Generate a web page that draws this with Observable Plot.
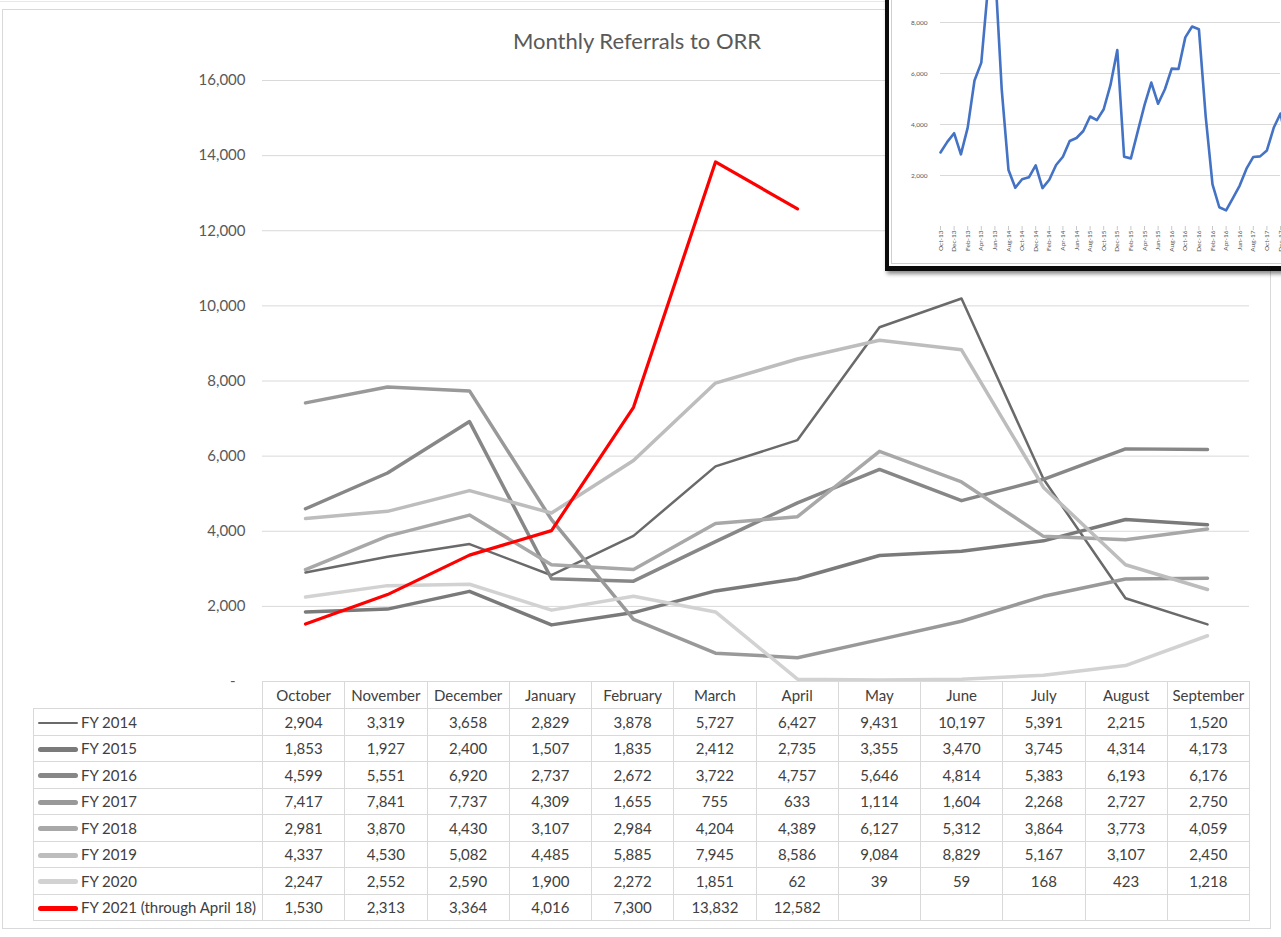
<!DOCTYPE html>
<html><head><meta charset="utf-8">
<script src="https://cdn.jsdelivr.net/npm/d3@7"></script>
<script src="https://cdn.jsdelivr.net/npm/@observablehq/plot@0.6"></script>
<style>
html,body{margin:0;padding:0;background:#fff;overflow:hidden;}
#page{position:relative;width:1281px;height:937px;overflow:hidden;font-family:Lato,"Open Sans",sans-serif;color:#404040;}
.abs{position:absolute;}
#frame{left:2px;top:9px;width:1269px;height:920px;border:1px solid #d9d9d9;box-sizing:border-box;}
#topline{left:0;top:1px;width:886px;height:0;border-top:1px solid #e8e8e8;}
#title{left:0;width:1274px;top:27px;text-align:center;font-size:22px;color:#595959;}
#tbl{left:33px;top:681px;border-collapse:collapse;table-layout:fixed;font-size:15px;color:#404040;}
#tbl td{border:1px solid #d9d9d9;padding:0;text-align:center;white-space:nowrap;overflow:hidden;}
#tbl td.lab{text-align:left;padding-left:4px;}
#tbl td.blank{border-top:none;border-left:none;}
.sw{display:inline-block;width:40px;border-radius:3px;vertical-align:middle;margin-right:3px;position:relative;top:-1px;}
#insetBox{left:885px;top:-10px;width:420px;height:281px;box-sizing:border-box;border-left:4px solid #0b0b0b;border-bottom:5px solid #0b0b0b;background:#fff;box-shadow:2px 3px 4px rgba(0,0,0,0.45);}
#insetInner{left:891px;top:-5px;width:420px;height:269px;box-sizing:border-box;border:1px solid #d0d0d0;}
#inset{left:890px;top:0;width:391px;height:262px;overflow:hidden;}
#main{left:0;top:0;}
</style></head>
<body><div id="page">
<div id="topline" class="abs"></div>
<div id="frame" class="abs"></div>
<div id="main" class="abs"></div>
<div id="title" class="abs">Monthly Referrals to ORR</div>
<table id="tbl" class="abs"></table>
<div id="insetBox" class="abs"></div>
<div id="insetInner" class="abs"></div>
<div id="inset" class="abs"></div>
</div>
<script>
// ---------- data ----------
const months = ["October","November","December","January","February","March","April","May","June","July","August","September"];
const seriesNames = ["FY 2014","FY 2015","FY 2016","FY 2017","FY 2018","FY 2019","FY 2020","FY 2021 (through April 18)"];
const fy2014 = [2904,3319,3658,2829,3878,5727,6427,9431,10197,5391,2215,1520];
const fy2015 = [1853,1927,2400,1507,1835,2412,2735,3355,3470,3745,4314,4173];
const fy2016 = [4599,5551,6920,2737,2672,3722,4757,5646,4814,5383,6193,6176];
const fy2017 = [7417,7841,7737,4309,1655,755,633,1114,1604,2268,2727,2750];
const fy2018 = [2981,3870,4430,3107,2984,4204,4389,6127,5312,3864,3773,4059];
const fy2019 = [4337,4530,5082,4485,5885,7945,8586,9084,8829,5167,3107,2450];
const fy2020 = [2247,2552,2590,1900,2272,1851,62,39,59,168,423,1218];
const fy2021 = [1530,2313,3364,4016,7300,13832,12582];
const yTicks = [0,2000,4000,6000,8000,10000,12000,14000,16000];
const insetYTicks = [2000,4000,6000,8000];
const monthAbbr = ["Oct","Nov","Dec","Jan","Feb","Mar","Apr","May","Jun","Jul","Aug","Sep"];

// ---------- styles ----------
const seriesValues = [fy2014,fy2015,fy2016,fy2017,fy2018,fy2019,fy2020,fy2021];
const seriesColors = ["#6a6a6a","#7a7a7a","#878787","#999999","#a8a8a8","#bdbdbd","#d2d2d2","#ff0000"];
const seriesWidths = [2.5,3.5,3.5,3.5,3.5,3.5,3.5,3.2];
const swatchHeights = [2.5,5,5,5,5,5,5,5];

const rows = seriesNames.flatMap((name, s) => seriesValues[s].map((v, i) => ({series: name, month: months[i], value: v})));
const fmt = d3.format(",");

// ---------- main chart ----------
const main = Plot.plot({
  width: 1281, height: 690,
  marginLeft: 262, marginRight: 32, marginTop: 80, marginBottom: 9,
  style: {background: "transparent", fontFamily: "Lato, 'Open Sans', sans-serif", overflow: "visible"},
  x: {type: "point", domain: months, padding: 0.5, axis: null},
  y: {domain: [0, 16000], axis: null},
  marks: [
    Plot.ruleY(yTicks.filter(d => d > 0), {stroke: "#d9d9d9", strokeWidth: 1}),
    Plot.axisY(yTicks.filter(d => d > 0), {tickSize: 0, tickPadding: 17, tickFormat: fmt, fontSize: 15, color: "#595959", label: null}),
    Plot.axisY([0], {tickSize: 0, tickPadding: 27, tickFormat: () => "-", fontSize: 15, color: "#595959", label: null}),
    ...seriesNames.map((name, s) => Plot.line(rows.filter(r => r.series === name), {
      x: "month", y: "value", stroke: seriesColors[s], strokeWidth: seriesWidths[s],
      strokeLinejoin: "round", strokeLinecap: "round"
    }))
  ]
});
document.getElementById("main").appendChild(main);

// ---------- data table ----------
const tbl = d3.select("#tbl");
const cg = tbl.append("colgroup");
cg.append("col").style("width", "229px");
months.forEach(() => cg.append("col").style("width", "82.25px"));
const hr = tbl.append("tr").style("height", "27px");
hr.append("td").attr("class", "blank");
months.forEach(m => hr.append("td").text(m));
seriesNames.forEach((name, s) => {
  const tr = tbl.append("tr").style("height", "26.5px");
  const lab = tr.append("td").attr("class", "lab");
  lab.append("span").attr("class", "sw")
    .style("height", swatchHeights[s] + "px")
    .style("background", seriesColors[s]);
  lab.append("span").text(name);
  months.forEach((m, i) => {
    const v = seriesValues[s][i];
    tr.append("td").text(v == null ? "" : fmt(v));
  });
});

// ---------- inset (monthly series) ----------
const insetSeries = [fy2014, fy2015, fy2016, fy2017, fy2018].flat().map((v, i) => ({i, value: v}));
const insetTicks = insetSeries.map(d => d.i).filter(i => i % 2 === 0 && i <= 50);
const insetLabel = i => monthAbbr[i % 12] + "-" + (13 + Math.floor((i + 3) / 12));
const inset = Plot.plot({
  width: 391, height: 262,
  marginLeft: 50, marginRight: 1, marginTop: 0, marginBottom: 36,
  style: {background: "transparent", fontFamily: "Lato, 'Open Sans', sans-serif"},
  x: {domain: [0, 50], range: [50, 390], axis: null},
  y: {domain: [0, 8000], range: [226, 22], axis: null},
  marks: [
    Plot.ruleY(insetYTicks, {stroke: "#d9d9d9", strokeWidth: 1}),
    Plot.axisY(insetYTicks, {tickSize: 0, tickPadding: 13, tickFormat: fmt, fontSize: 6.5, color: "#595959", label: null}),
    Plot.axisX(insetTicks, {tickSize: 4, tickFormat: () => "", color: "#c8c8c8", label: null}),
    Plot.axisX(insetTicks, {tickSize: 0, tickPadding: 4, tickRotate: -90, tickFormat: insetLabel, fontSize: 6.5, color: "#595959", label: null}),
    Plot.line(insetSeries, {x: "i", y: "value", stroke: "#4472c4", strokeWidth: 2.6, strokeLinejoin: "round"})
  ]
});
document.getElementById("inset").appendChild(inset);
</script>
</body></html>
